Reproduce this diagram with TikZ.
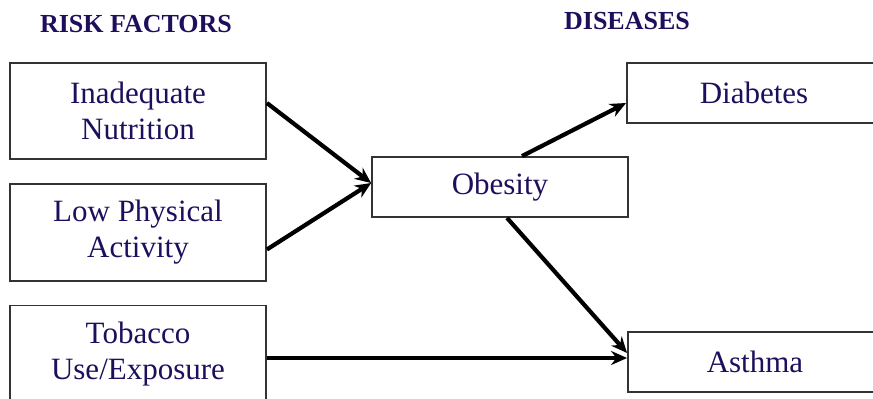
\documentclass[tikz,border=0pt]{standalone}
\usepackage{fontspec}
\setmainfont{Liberation Serif}
\usepackage{tikz}
\usetikzlibrary{arrows.meta}

\definecolor{navy}{RGB}{30,14,92}
\tikzset{
  box/.style={draw=black!80, line width=1.8bp, minimum width=256bp, inner sep=0pt,
    align=center, text=navy, font=\fontsize{31bp}{36bp}\selectfont},
  head/.style={text=navy, font=\fontsize{26bp}{30bp}\selectfont\bfseries},
  link/.style={-{Stealth[length=16bp,width=14bp]}, line width=4.2bp}
}

\begin{document}
\begin{tikzpicture}[x=1bp,y=-1bp]
\useasboundingbox (0,0) rectangle (873,398);
\clip (0,0) rectangle (873,398);

\node[head] (risk) at (136,24) {RISK FACTORS};
\node[head] (dis) at (627,21) {DISEASES};

\node[box, minimum height=96bp] (nutr) at (138,111) {Inadequate\\Nutrition};
\node[box, minimum height=97bp] (phys) at (138,232.5) {Low Physical\\Activity};
\node[box, minimum height=97bp] (tob) at (138,354) {Tobacco\\Use/Exposure};
\node[box, minimum height=60bp] (obes) at (500,187) {Obesity};
\node[box, minimum width=254bp, minimum height=60bp] (diab) at (754,93) {Diabetes};
\node[box, minimum width=254bp, minimum height=60bp] (asth) at (755,362) {Asthma};

\draw[link] ([yshift=8bp]nutr.east) -- ([yshift=4bp]obes.west);
\draw[link] ([yshift=-17bp]phys.east) -- ([yshift=4bp]obes.west);
\draw[link] ([yshift=-4bp]tob.east) -- ([yshift=-4bp]tob.east -| asth.west);
\draw[link] ([xshift=22bp]obes.north) -- ([yshift=-10bp]diab.west);
\draw[link] ([xshift=7bp]obes.south) -- ([yshift=9bp]asth.west);

\end{tikzpicture}
\end{document}
